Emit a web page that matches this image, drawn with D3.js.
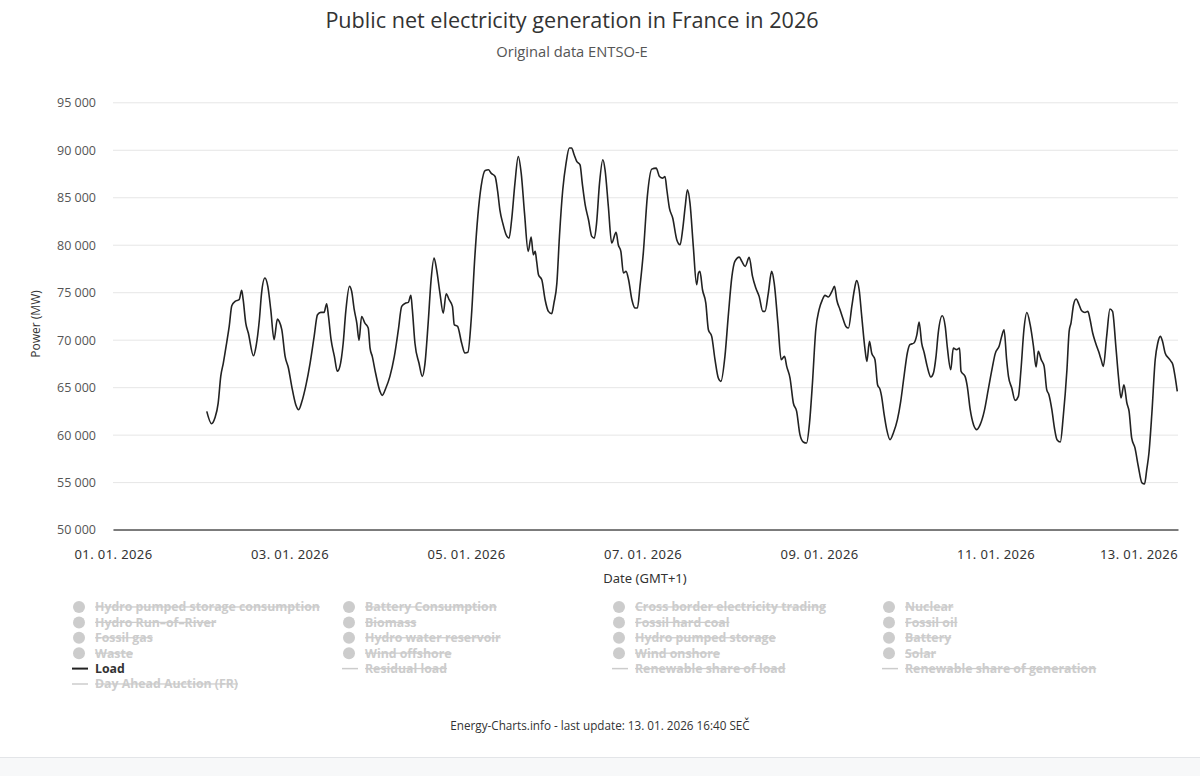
<!DOCTYPE html>
<html>
<head>
<meta charset="utf-8">
<script src="https://cdn.jsdelivr.net/npm/d3@7"></script>
<style>
  html, body { margin: 0; padding: 0; background: #fff; }
  svg { display: block; }
</style>
</head>
<body>
<svg id="chart" width="1200" height="776"></svg>
<script>
// ---------------- DATA ----------------
const chartTitle = "Public net electricity generation in France in 2026";
const chartSubtitle = "Original data ENTSO-E";
const yAxisTitle = "Power (MW)";
const xAxisTitle = "Date (GMT+1)";
const footerText = "Energy-Charts.info - last update: 13. 01. 2026 16:40 SEČ";
const startDate = "2026-01-01T00:00:00Z";
const rangeHours = 289.6;
const yTicks = [50000, 55000, 60000, 65000, 70000, 75000, 80000, 85000, 90000, 95000];

// Load series: hours since 01.01.2026 00:00 and load in MW
const loadHours = [
25.5,26.8,27.7,28.6,29.3,30.0,30.9,31.6,32.3,33.2,34.3,35.0,35.4,36.1,36.8,38.2,38.9,39.8,40.4,41.3,42.1,42.9,43.8,44.7,45.2,45.9,46.8,47.7,48.6,49.7,50.5,51.3,52.5,53.6,54.7,55.6,56.5,57.4,58.1,58.6,59.3,60.2,61.0,61.7,62.6,63.3,64.3,64.9,65.6,66.3,66.9,67.6,68.5,69.4,69.9,
70.5,71.4,72.6,73.2,74.2,75.3,76.5,77.6,78.5,79.6,80.3,81.0,81.4,82.1,83.2,84.1,84.8,85.7,86.5,87.3,88.0,88.9,89.8,90.6,91.4,92.3,92.8,93.7,94.8,95.7,96.5,97.4,98.4,99.2,100.1,101.2,102.1,102.8,103.9,104.6,105.2,106.1,106.9,107.7,108.4,109.3,110.2,111.0,111.9,112.9,113.7,114.3,114.8,
115.2,115.7,116.6,117.5,118.4,119.3,119.9,120.7,121.4,122.3,123.2,124.1,124.7,125.4,126.1,127.0,127.6,128.4,129.3,130.2,130.9,131.5,132.3,133.2,133.8,134.7,135.6,136.8,137.4,138.1,138.8,139.5,140.2,141.1,142.0,142.6,143.3,144.2,145.3,146.5,147.7,148.6,149.5,150.1,150.6,151.3,152.2,153.3,154.2,154.9,155.6,156.2,156.9,157.8,158.7,159.2,159.6,
160.3,161.2,161.9,162.8,163.7,164.6,165.3,166.4,167.3,168.3,169.1,170.3,171.0,171.9,173.0,173.9,174.8,175.7,176.7,177.3,178.2,179.1,179.8,180.8,181.7,182.6,183.2,184.1,185.0,185.9,186.8,187.7,188.6,189.4,190.2,191.1,192.0,192.9,193.6,194.5,195.5,196.2,196.8,197.7,198.3,199.3,200.0,200.9,201.6,202.2,202.9,203.6,204.5,
205.0,205.7,206.3,207.2,207.9,208.6,209.0,209.7,210.4,211.3,212.2,213.3,214.2,215.1,216.0,216.7,217.8,218.6,219.2,219.9,220.6,221.4,222.4,223.1,223.8,224.4,225.5,226.3,226.9,227.8,228.5,229.4,230.2,230.6,231.7,232.3,233.1,234.0,234.9,235.8,236.9,238.0,239.0,239.9,241.0,241.7,242.3,243.0,243.5,244.4,245.3,246.2,246.9,247.7,248.5,249.4,
250.3,251.0,251.6,252.4,253.2,253.9,254.5,255.3,256.0,256.7,257.6,258.4,259.4,260.0,260.5,261.2,261.9,262.7,263.4,264.3,265.1,265.7,266.4,267.2,268.0,268.7,269.3,270.2,271.1,271.8,272.7,273.4,274.1,274.9,275.7,276.3,277.0,277.9,278.8,279.8,280.5,281.1,281.7,282.5,283.4,284.1,284.8,285.4,286.1,287.0,287.7,288.2,288.8,289.4
];
const loadMW = [
62450,61150,61750,63330,66140,67540,69650,71400,73580,74030,74210,75190,74210,71750,70700,68310,69300,72100,74910,76490,75610,73160,70000,72170,71930,71050,68240,67020,65090,63160,62630,63400,65260,67540,70350,72630,72880,72880,73790,72450,70000,68240,66670,67190,69650,72980,75610,75080,73160,71750,69930,72450,71750,71230,69110,
68240,66490,64560,64140,64910,66140,68240,71050,73510,73860,73930,74670,73160,69650,67540,66140,67370,71750,76310,78600,77370,74910,72800,74840,74210,73510,71580,71400,69650,68600,68670,72100,78770,82980,86140,87820,87890,87540,87190,85610,83680,82100,81050,80700,82630,86490,89300,87540,83330,79300,80810,78950,79300,
78240,76840,76310,74210,72980,72740,73860,75960,80880,85790,88600,90180,90180,89470,88770,88420,86490,84210,82630,80880,80700,82280,86490,88950,87890,84030,80180,81300,80000,79300,77020,77190,76310,74210,73330,73330,75610,79120,85090,87960,88070,87190,87010,87190,85790,83860,82810,80530,80000,81580,84030,85790,84390,79820,75790,77020,77190,
75260,73860,71050,70350,67890,65960,65610,68240,72450,76660,78240,78700,78240,77720,78670,76660,75440,74560,72980,72980,74910,77190,75960,71750,67890,68240,67190,65960,63330,62450,60000,59230,59120,61230,65440,71050,73160,74210,74670,74490,75090,75610,74210,73160,72450,71400,71230,73510,75260,76240,75260,72450,68950,
67720,69820,68600,67890,65260,64740,64030,62100,60530,59470,60180,61580,63510,66140,68600,69470,69650,70530,71860,69650,68600,67190,66070,66490,68240,70700,72520,71400,69110,66840,69110,68950,69110,66670,66140,65090,62630,61050,60530,61050,62450,64740,66840,68530,69370,70420,71050,67890,66140,64910,63610,64030,66840,71050,72870,71580,
69300,67120,68770,67900,67190,64740,64210,62630,60700,59470,59230,61930,66840,70880,71750,73680,74280,73680,73050,72870,72980,72100,70700,69650,68770,67900,67190,70350,73230,72980,69300,66140,63860,65260,63330,62450,59650,58600,56670,54910,54800,56320,58070,62280,67890,69650,70350,69820,68600,68070,67720,67370,66140,64560
];

// Legend entries (row by row, four columns)
const legendNames = [
  "Hydro pumped storage consumption", "Battery Consumption", "Cross border electricity trading", "Nuclear",
  "Hydro Run–of–River", "Biomass", "Fossil hard coal", "Fossil oil",
  "Fossil gas", "Hydro water reservoir", "Hydro pumped storage", "Battery",
  "Waste", "Wind offshore", "Wind onshore", "Solar",
  "Load", "Residual load", "Renewable share of load", "Renewable share of generation",
  "Day Ahead Auction (FR)"
];
const legendKinds = [
  "area","area","area","area",
  "area","area","area","area",
  "area","area","area","area",
  "area","area","area","area",
  "line","line","line","line",
  "line"
];
const legendVisible = ["Load"];

// ---------------- DRAW ----------------
const svg = d3.select("#chart");
const W = 1200, H = 776;
const plot = { left: 113, right: 1178, top: 102.3, bottom: 529.6 };
const baseFont = "'Open Sans', 'Noto Sans', sans-serif";

const t0 = new Date(startDate);
const t1 = new Date(t0.getTime() + rangeHours * 3600e3);
const x = d3.scaleUtc().domain([t0, t1]).range([plot.left, plot.right]);
const y = d3.scaleLinear().domain([50000, 95000]).range([plot.bottom, plot.top]);

const loc = d3.formatLocale({ decimal: ",", thousands: " ", grouping: [3], currency: ["", ""] });
const fmtY = loc.format(",");

// background
svg.append("rect").attr("width", W).attr("height", H).attr("fill", "#fff");
svg.append("rect").attr("x", 0).attr("y", 757).attr("width", W).attr("height", H - 757).attr("fill", "#f7f8f9");
svg.append("line").attr("x1", 0).attr("x2", W).attr("y1", 757.5).attr("y2", 757.5).attr("stroke", "#e3e5e8");

// title
svg.append("text").attr("x", 572).attr("y", 28).attr("text-anchor", "middle")
  .attr("font-family", baseFont).attr("font-size", 21.6).attr("fill", "#333").text(chartTitle);
svg.append("text").attr("x", 572).attr("y", 57).attr("text-anchor", "middle")
  .attr("font-family", baseFont).attr("font-size", 14.7).attr("fill", "#555").text(chartSubtitle);

// y grid + labels
const yAxis = d3.axisLeft(y).tickValues(yTicks).tickSize(-(plot.right - plot.left)).tickFormat(fmtY).tickPadding(17);
const gy = svg.append("g").attr("transform", `translate(${plot.left},0)`).call(yAxis);
gy.select(".domain").remove();
gy.selectAll(".tick line").attr("stroke", "#e6e6e6").attr("stroke-width", 1);
gy.selectAll(".tick text").attr("font-family", baseFont).attr("font-size", 12.5).attr("fill", "#555").attr("dy", "0.35em");

// y axis title
svg.append("text")
  .attr("transform", `translate(40,${(plot.top + plot.bottom) / 2 + 8}) rotate(-90)`)
  .attr("text-anchor", "middle").attr("font-family", baseFont).attr("font-size", 12).attr("fill", "#333")
  .text(yAxisTitle);

// x axis
const xAxis = d3.axisBottom(x).ticks(d3.utcDay.every(2)).tickSize(0).tickPadding(20)
  .tickFormat(d3.utcFormat("%d. %m. %Y"));
const gx = svg.append("g").attr("transform", `translate(0,${plot.bottom})`).call(xAxis);
gx.select(".domain").attr("stroke", "#555").attr("stroke-width", 1.5);
gx.selectAll(".tick text").attr("font-family", "'Noto Sans', sans-serif").attr("font-size", 13)
  .attr("fill", "#333").attr("letter-spacing", "0.4px");
// keep tick labels inside the chart area like Highcharts
gx.selectAll(".tick text").each(function () {
  const bb = this.getBBox();
  const tr = this.parentNode.getAttribute("transform");
  const tx = +tr.match(/translate\(([-\d.]+)/)[1];
  const rightEdge = tx + bb.x + bb.width;
  if (rightEdge > plot.right) d3.select(this).attr("x", plot.right - rightEdge);
});

svg.append("text").attr("x", 645).attr("y", 583).attr("text-anchor", "middle")
  .attr("font-family", "'Noto Sans', sans-serif").attr("font-size", 13).attr("fill", "#333").text(xAxisTitle);

// load line
const pts = loadHours.map((h, i) => ({ t: new Date(t0.getTime() + h * 3600e3), v: loadMW[i] }));
const line = d3.line().x(d => x(d.t)).y(d => y(d.v)).curve(d3.curveMonotoneX);
svg.append("path").datum(pts).attr("d", line).attr("fill", "none")
  .attr("stroke", "#222").attr("stroke-width", 1.6).attr("stroke-linejoin", "round");

// legend
const colX = [73, 343, 613, 883];
const rowY0 = 607, rowH = 15.4;
const lg = svg.append("g");
legendNames.forEach((name, i) => {
  const col = i % 4, row = Math.floor(i / 4);
  const cx = colX[col], cy = rowY0 + row * rowH;
  const on = legendVisible.includes(name);
  const color = on ? "#222" : "#cccccc";
  if (legendKinds[i] === "area") {
    lg.append("circle").attr("cx", cx + 6).attr("cy", cy).attr("r", 6).attr("fill", color);
  } else {
    lg.append("line").attr("x1", cx - 1).attr("x2", cx + 15).attr("y1", cy).attr("y2", cy)
      .attr("stroke", color).attr("stroke-width", on ? 2 : 1.5);
  }
  lg.append("text").attr("x", cx + 22).attr("y", cy).attr("dy", "0.35em")
    .attr("font-family", baseFont).attr("font-size", 12.3).attr("font-weight", "bold")
    .attr("fill", on ? "#333" : "#cccccc")
    .attr("text-decoration", on ? "none" : "line-through")
    .text(name);
});

// footer
svg.append("text").attr("x", 600).attr("y", 730).attr("text-anchor", "middle")
  .attr("font-family", baseFont).attr("font-size", 11.7).attr("fill", "#333").text(footerText);
</script>
</body>
</html>
